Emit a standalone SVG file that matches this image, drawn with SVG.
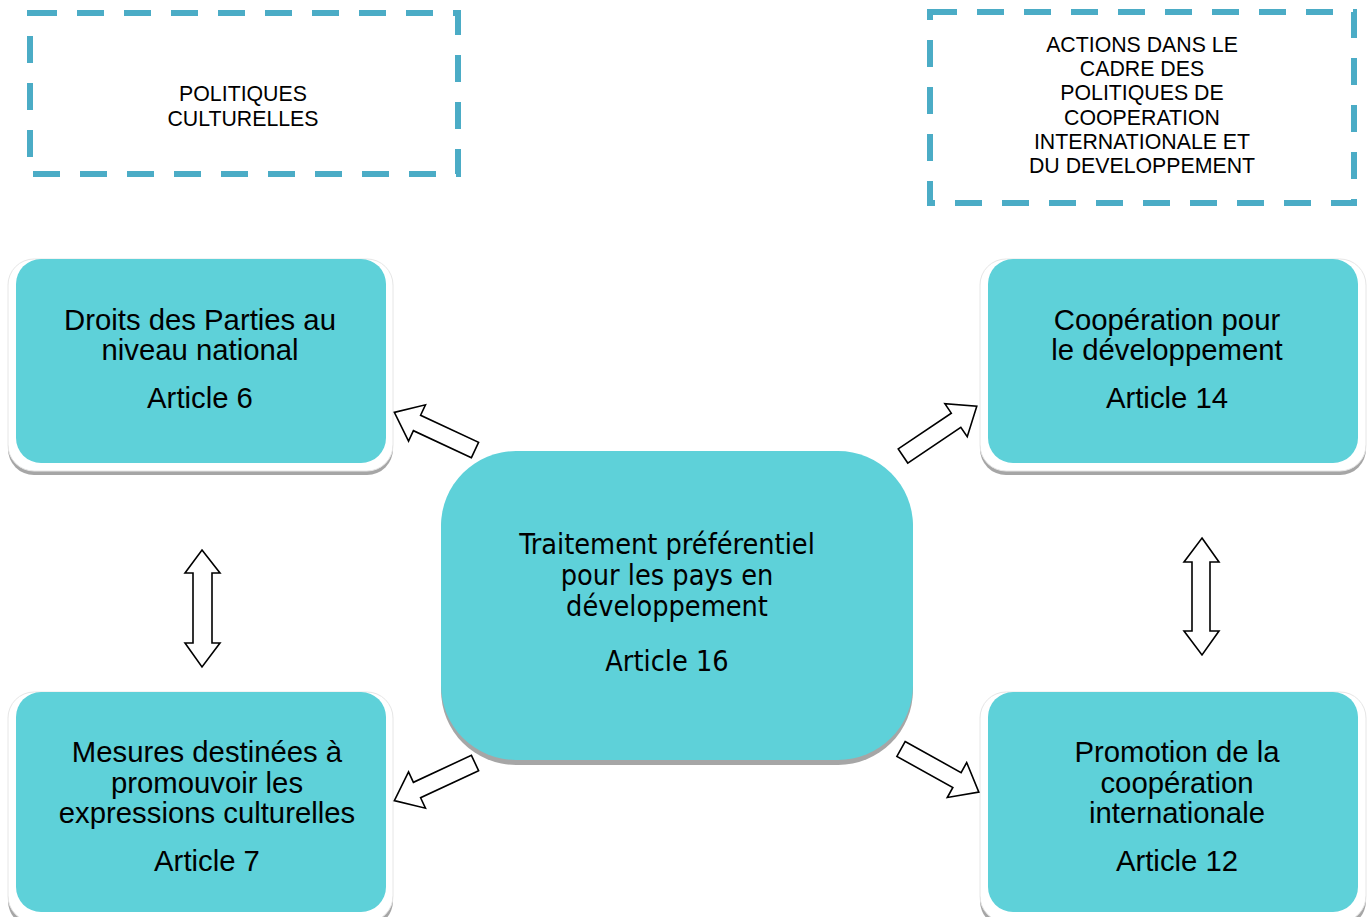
<svg xmlns="http://www.w3.org/2000/svg" width="1370" height="917" viewBox="0 0 1370 917">
<style>
.dash{fill:none;stroke:#4BACC6;stroke-width:6;stroke-dasharray:27 20}
.lbl{font-family:"Liberation Sans",Arial,sans-serif;font-size:21.3px;fill:#000;text-anchor:middle}
.nt{font-family:"Liberation Sans",Arial,sans-serif;font-size:29.3px;fill:#000;text-anchor:middle}
.ct{font-family:"DejaVu Sans Condensed","DejaVu Sans",sans-serif;font-size:28.6px;fill:#000;text-anchor:middle}
.sh{fill:#A6A6A6}
.fr{fill:#fff;stroke:#e6e6e6;stroke-width:1}
.tl{fill:#5ED1D9}
.arr{fill:#fff;stroke:#000;stroke-width:1.6;stroke-linejoin:miter}
</style>
<defs>
<path id="blk" d="M0,-8.5 L64,-8.5 L64,-20 L89,0 L64,20 L64,8.5 L0,8.5 Z"/>
</defs>
<rect width="1370" height="917" fill="#fff"/>

<g id="politiques">
<rect class="dash" x="30" y="13" width="428" height="161"/>
<text class="lbl" x="243" y="101">POLITIQUES</text>
<text class="lbl" x="243" y="126">CULTURELLES</text>
</g>

<g id="actions">
<rect class="dash" x="930" y="12" width="424" height="191"/>
<text class="lbl" x="1142" y="52">ACTIONS DANS LE</text>
<text class="lbl" x="1142" y="76">CADRE DES</text>
<text class="lbl" x="1142" y="100">POLITIQUES DE</text>
<text class="lbl" x="1142" y="125">COOPERATION</text>
<text class="lbl" x="1142" y="149">INTERNATIONALE ET</text>
<text class="lbl" x="1142" y="173">DU DEVELOPPEMENT</text>
</g>

<g id="article6">
<rect class="sh" x="8" y="264" width="385" height="211" rx="26"/>
<rect class="fr" x="8" y="259" width="385" height="212" rx="26"/>
<rect class="tl" x="16" y="259" width="370" height="204" rx="25"/>
<text class="nt" x="200" y="330">Droits des Parties au</text>
<text class="nt" x="200" y="360">niveau national</text>
<text class="nt" x="200" y="408">Article 6</text>
</g>

<g id="article14">
<rect class="sh" x="980" y="264" width="386" height="211" rx="26"/>
<rect class="fr" x="980" y="259" width="386" height="212" rx="26"/>
<rect class="tl" x="988" y="259" width="370" height="204" rx="25"/>
<text class="nt" x="1167" y="330">Coopération pour</text>
<text class="nt" x="1167" y="360">le développement</text>
<text class="nt" x="1167" y="408">Article 14</text>
</g>

<g id="article7">
<rect class="sh" x="8" y="697" width="385" height="230" rx="26"/>
<rect class="fr" x="8" y="692" width="385" height="230" rx="26"/>
<rect class="tl" x="16" y="692" width="370" height="220" rx="25"/>
<text class="nt" x="207" y="762">Mesures destinées à</text>
<text class="nt" x="207" y="793">promouvoir les</text>
<text class="nt" x="207" y="823">expressions culturelles</text>
<text class="nt" x="207" y="871">Article 7</text>
</g>

<g id="article12">
<rect class="sh" x="980" y="697" width="386" height="230" rx="26"/>
<rect class="fr" x="980" y="692" width="386" height="230" rx="26"/>
<rect class="tl" x="988" y="692" width="370" height="220" rx="25"/>
<text class="nt" x="1177" y="762">Promotion de la</text>
<text class="nt" x="1177" y="793">coopération</text>
<text class="nt" x="1177" y="823">internationale</text>
<text class="nt" x="1177" y="871">Article 12</text>
</g>

<g id="article16">
<rect class="sh" x="441" y="456" width="472" height="309" rx="75"/>
<rect class="tl" x="441" y="451" width="472" height="309" rx="75"/>
<text class="ct" x="667" y="554">Traitement préférentiel</text>
<text class="ct" x="667" y="585">pour les pays en</text>
<text class="ct" x="667" y="616">développement</text>
<text class="ct" x="667" y="671">Article 16</text>
</g>

<g id="connectors">
<use href="#blk" class="arr" transform="translate(475,450) rotate(205)"/>
<use href="#blk" class="arr" transform="translate(903,456) rotate(-34)"/>
<use href="#blk" class="arr" transform="translate(475,763) rotate(155)"/>
<use href="#blk" class="arr" transform="translate(901,749) rotate(29)"/>
<path class="arr" d="M202,550 L220,573 L212,573 L212,643 L220,643 L202,667 L185,643 L193,643 L193,573 L185,573 Z"/>
<path class="arr" d="M1202,538 L1219,562 L1210,562 L1210,631 L1219,631 L1202,655 L1184,631 L1192,631 L1192,562 L1184,562 Z"/>
</g>
</svg>
